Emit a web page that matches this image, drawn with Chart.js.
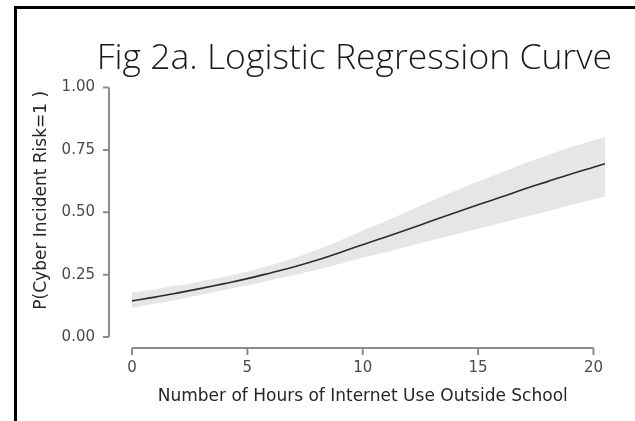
<!DOCTYPE html>
<html>
<head>
<meta charset="utf-8">
<script src="https://cdn.jsdelivr.net/npm/chart.js@4/dist/chart.umd.min.js"></script>
<style>
  html, body { margin: 0; padding: 0; background: #ffffff; }
  #wrap { position: relative; width: 635px; height: 421px; }
</style>
</head>
<body>
<div id="wrap"><canvas id="chart" width="635" height="421"></canvas></div>
<script>
// Hours of internet use outside school (x) and fitted probability
const hours = [0, 1, 2, 3, 4, 5, 6, 7, 8, 9, 10, 11, 12, 13, 14, 15, 16, 17, 18, 19, 20, 20.5];
const fitted = [0.145, 0.160, 0.177, 0.195, 0.214, 0.234, 0.257, 0.281, 0.308, 0.338, 0.370,
                0.401, 0.433, 0.466, 0.498, 0.530, 0.561, 0.593, 0.623, 0.653, 0.681, 0.695];
// 95% confidence band around the fitted curve
const lowerCI = [0.117, 0.133, 0.150, 0.169, 0.188, 0.207, 0.228, 0.248, 0.270, 0.293, 0.318,
                 0.340, 0.364, 0.388, 0.411, 0.434, 0.457, 0.481, 0.504, 0.528, 0.551, 0.563];
const upperCI = [0.178, 0.191, 0.207, 0.224, 0.242, 0.263, 0.288, 0.316, 0.349, 0.386, 0.426,
                 0.465, 0.505, 0.546, 0.585, 0.623, 0.660, 0.696, 0.729, 0.760, 0.788, 0.801];
const xTicks = [0, 5, 10, 15, 20];
const yTicks = [0, 0.25, 0.5, 0.75, 1];
const xTitle = 'Number of Hours of Internet Use Outside School';
const yTitle = 'P(Cyber Incident Risk=1 )';

const pts = (ys) => hours.map((h, i) => ({ x: h, y: ys[i] }));

// Frame around the figure, offset axis lines with tick marks, and axis titles
const decor = {
  id: 'decor',
  beforeDraw(chart) {
    const ctx = chart.ctx;
    ctx.save();
    ctx.fillStyle = '#000';
    ctx.fillRect(14, 6, chart.width - 14, 3);
    ctx.fillRect(14, 6, 3, chart.height - 6);
    ctx.restore();
  },
  afterDraw(chart) {
    const { ctx, chartArea, scales: { x, y } } = chart;
    const x0 = x.getPixelForValue(xTicks[0]);
    const x1 = x.getPixelForValue(xTicks[xTicks.length - 1]);
    ctx.save();
    ctx.strokeStyle = '#8c8c8c';
    ctx.lineWidth = 2;
    // y axis
    const ax = chartArea.left - 23;
    ctx.beginPath();
    ctx.moveTo(ax, y.getPixelForValue(yTicks[yTicks.length - 1]));
    ctx.lineTo(ax, y.getPixelForValue(yTicks[0]));
    yTicks.forEach(v => {
      const py = y.getPixelForValue(v);
      ctx.moveTo(ax, py);
      ctx.lineTo(ax - 6, py);
    });
    ctx.stroke();
    // x axis
    const ay = chartArea.bottom + 11;
    ctx.beginPath();
    ctx.moveTo(x0, ay);
    ctx.lineTo(x1, ay);
    xTicks.forEach(v => {
      const px = x.getPixelForValue(v);
      ctx.moveTo(px, ay);
      ctx.lineTo(px, ay + 7);
    });
    ctx.stroke();

    // axis titles
    ctx.fillStyle = '#262626';
    ctx.font = '17px "DejaVu Sans"';
    ctx.textAlign = 'center';
    ctx.textBaseline = 'middle';
    ctx.fillText(xTitle, (x0 + x1) / 2, chartArea.bottom + 60);
    ctx.translate(42, (chartArea.top + chartArea.bottom) / 2 - 12);
    ctx.rotate(-Math.PI / 2);
    ctx.fillText(yTitle, 0, 0);
    ctx.restore();
  }
};

new Chart(document.getElementById('chart'), {
  type: 'line',
  data: {
    datasets: [
      { data: pts(lowerCI), borderWidth: 0, pointRadius: 0, fill: false, tension: 0.4, order: 3 },
      { data: pts(upperCI), borderWidth: 0, pointRadius: 0, fill: '-1', tension: 0.4,
        backgroundColor: '#e6e6e6', order: 2 },
      { data: pts(fitted), borderColor: '#2b2b2b', borderWidth: 1.6, pointRadius: 0,
        fill: false, tension: 0.4, order: 1 }
    ]
  },
  options: {
    responsive: false,
    animation: false,
    events: [],
    layout: { padding: { left: 20, right: 23, top: 9, bottom: 0 } },
    plugins: {
      legend: { display: false },
      tooltip: { enabled: false },
      title: {
        display: true,
        text: 'Fig 2a. Logistic Regression Curve',
        align: 'end',
        color: '#1a1a1a',
        font: { family: 'Open Sans', size: 35.5, weight: '300' },
        padding: { top: 29, bottom: 7 }
      }
    },
    scales: {
      x: {
        type: 'linear',
        min: 0, max: 20.5,
        grid: { display: false, drawTicks: false },
        border: { display: false },
        afterBuildTicks(scale) { scale.ticks = xTicks.map(v => ({ value: v })); },
        ticks: {
          padding: 22,
          color: '#4a4a4a',
          font: { family: 'DejaVu Sans', size: 15 },
          autoSkip: false,
          maxRotation: 0,
          callback: (v) => String(v)
        },
        afterFit(scale) { scale.height = 84; scale.paddingRight = 30; }
      },
      y: {
        min: 0, max: 1,
        grid: { display: false, drawTicks: false },
        border: { display: false },
        afterBuildTicks(scale) { scale.ticks = yTicks.map(v => ({ value: v })); },
        ticks: {
          padding: 37,
          color: '#4a4a4a',
          font: { family: 'DejaVu Sans', size: 15 },
          callback: (v) => v.toFixed(2)
        },
        afterFit(scale) { scale.width = 112; }
      }
    }
  },
  plugins: [decor]
});
</script>
</body>
</html>
